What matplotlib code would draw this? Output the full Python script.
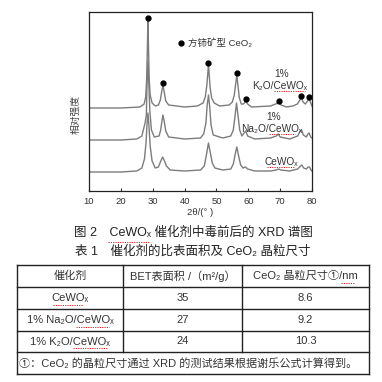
import matplotlib
matplotlib.use('Agg')
import matplotlib.pyplot as plt
from matplotlib.lines import Line2D

plt.rcParams['font.family'] = ['Liberation Sans', 'Noto Sans CJK SC', 'DejaVu Sans']

# ---------------- data ----------------
# K2O/CeWOx (top curve)
tt_k = [10, 20, 26, 27.3, 27.8, 28.1, 28.3, 28.5, 28.7, 28.9, 29.2, 29.8, 30.8, 31.8, 32.4, 32.8,
        33.2, 33.6, 34.1, 35.0, 40, 44, 45.8, 46.5, 47.0, 47.3, 47.5, 47.7, 48.0, 48.5, 49.3, 51,
        54, 55.0, 55.6, 56.0, 56.4, 56.8, 57.2, 57.8, 58.5, 59.2, 59.8, 61, 67, 68.6, 69.5, 70.3,
        72, 74, 75.4, 76.2, 76.7, 77.2, 77.9, 78.6, 79.1, 79.6, 80]
int_k = [83, 83, 84, 87, 94, 112, 140, 171, 140, 112, 96, 88, 85, 86, 91, 99,
         106, 99, 90, 86, 84, 85, 88, 94, 106, 118, 126, 118, 104, 93, 88, 85,
         86, 89, 96, 106, 116, 104, 93, 87, 87, 90, 87, 84, 85, 87, 88, 86,
         84, 85, 87, 91, 93, 89, 87, 90, 92, 88, 85]
# Na2O/CeWOx (middle curve)
tt_na = [10, 20, 25, 26.6, 27.2, 27.6, 28.0, 28.2, 28.5, 28.8, 29.1, 29.6, 30.5, 32, 32.5, 32.9,
         33.2, 33.6, 34.1, 35, 40, 45, 46.0, 46.7, 47.1, 47.5, 47.9, 48.3, 49, 52, 54.5, 55.3,
         55.8, 56.3, 56.8, 57.3, 58, 58.7, 59.2, 59.8, 62, 67, 68.8, 69.4, 70, 73, 75.5, 76.3,
         76.7, 77.3, 78.2, 78.7, 79.1, 79.6, 80]
int_na = [51, 51, 52, 55, 63, 68, 76, 105, 130, 105, 80, 61, 54, 55, 61, 70,
          76, 70, 60, 54, 52, 53, 57, 68, 86, 96, 84, 66, 56, 53, 55, 61,
          74, 88, 75, 61, 55, 58, 60, 55, 52, 53, 55, 57, 54, 52, 55, 60,
          61, 56, 54, 57, 58, 54, 53]
# CeWOx (bottom curve)
tt_ce = [10, 20, 25, 26.6, 27.4, 27.9, 28.2, 28.5, 28.8, 29.2, 29.8, 30.8, 31.8, 32.4, 33.1, 33.7,
         34.3, 35.5, 40, 45, 46.2, 46.9, 47.5, 48.1, 48.7, 49.5, 52, 54.5, 55.3, 55.9, 56.4, 56.9,
         57.6, 58.4, 59.1, 59.8, 62, 67, 68.8, 69.5, 70.2, 73, 75.5, 76.4, 76.8, 77.4, 78.2, 78.8,
         79.2, 79.7, 80]
int_ce = [19, 19, 20, 23, 32, 48, 66, 78, 66, 45, 30, 23, 24, 29, 34, 30,
          25, 21, 20, 21, 25, 37, 48, 38, 28, 23, 21, 22, 27, 37, 44, 36,
          26, 23, 24, 22, 20, 20, 21, 22, 21, 20, 22, 25, 26, 23, 22, 24,
          24, 21, 20]
# cerianite CeO2 peak markers
mark_tt = [28.5, 33.2, 47.5, 56.4, 59.2, 69.5, 76.7, 79.1]
mark_int = [173, 108, 128, 118, 92, 90, 95, 94]

xticks = [10, 20, 30, 40, 50, 60, 70, 80]

# table data
tab_header = ['催化剂', 'BET表面积 /（m²/g）', 'CeO₂ 晶粒尺寸①/nm']
tab_catalyst = ['CeWOₓ', '1% Na₂O/CeWOₓ', '1% K₂O/CeWOₓ']
tab_bet = ['35', '27', '24']
tab_size = ['8.6', '9.2', '10.3']
tab_note = '①：CeO₂ 的晶粒尺寸通过 XRD 的测试结果根据谢乐公式计算得到。'

W = 382.0
def fx(px):
    return px / W
def fy(py):
    return 1 - py / W

fig = plt.figure(figsize=(3.82, 3.82), dpi=100)
fig.patch.set_facecolor('white')

ax = fig.add_axes([fx(89), fy(191), 223 / W, 179 / W])
line_c = '#7c7c7c'
ax.plot(tt_k, int_k, color=line_c, lw=1.0)
ax.plot(tt_na, int_na, color=line_c, lw=1.0)
ax.plot(tt_ce, int_ce, color=line_c, lw=1.0)
ax.plot(mark_tt, mark_int, 'o', color='black', ms=3.5, ls='none')
ax.set_xlim(10, 80)
ax.set_ylim(0, 179)
ax.set_yticks([])
ax.set_xticks(xticks)
ax.tick_params(axis='x', direction='in', length=2, width=0.8, labelsize=6.8,
               pad=4.5, labelcolor='#333333', color='#333333')
for s in ax.spines.values():
    s.set_linewidth(0.9)
    s.set_color('#222222')
ax.set_xlabel('2θ/(° )', fontsize=6.8, color='#333333', labelpad=1.5)

# legend inside the plot
ax.plot([38.9], [148], 'o', color='black', ms=3.5)
ax.text(41.0, 148, '方铈矿型 CeO₂', fontsize=6.8, color='#333333', va='center', ha='left')

# curve labels
lab_fs = 7.3
ax.text(70.3, 117, '1%', fontsize=lab_fs, color='#333333', ha='center', va='center')
ax.text(70.0, 105, 'K₂O/CeWOₓ', fontsize=lab_fs, color='#333333', ha='center', va='center')
ax.text(67.8, 74, '1%', fontsize=lab_fs, color='#333333', ha='center', va='center')
ax.text(67.4, 62, 'Na₂O/CeWOₓ', fontsize=lab_fs, color='#333333', ha='center', va='center')
ax.text(70.3, 29, 'CeWOₓ', fontsize=lab_fs, color='#333333', ha='center', va='center')

fig.text(fx(76), fy(114), '相对强度', rotation=90, fontsize=7, color='#444444',
         ha='center', va='center')

# captions
fig.text(fx(193), fy(233), '图 2　CeWOₓ 催化剂中毒前后的 XRD 谱图', fontsize=9,
         color='#222222', ha='center', va='center')
fig.text(fx(193), fy(252), '表 1　催化剂的比表面积及 CeO₂ 晶粒尺寸', fontsize=9,
         color='#222222', ha='center', va='center')

# table
tc = '#222222'
xs = [17, 123, 242, 369]
ys = [265, 287, 309, 331, 352, 374]
for y in ys:
    fig.add_artist(Line2D([fx(xs[0]), fx(xs[-1])], [fy(y), fy(y)], color=tc, lw=1.0))
for x in xs:
    y_end = ys[-2] if x in (xs[1], xs[2]) else ys[-1]
    fig.add_artist(Line2D([fx(x), fx(x)], [fy(ys[0]), fy(y_end)], color=tc, lw=1.0))
cx = [(xs[i] + xs[i + 1]) / 2 for i in range(3)]
tcol = '#333333'
for j, h in enumerate(tab_header):
    fig.text(fx(cx[j]), fy((ys[0] + ys[1]) / 2), h, fontsize=8, color=tcol, ha='center', va='center')
for i in range(3):
    yc = fy((ys[i + 1] + ys[i + 2]) / 2)
    fig.text(fx(cx[0]), yc, tab_catalyst[i], fontsize=8, color=tcol, ha='center', va='center')
    fig.text(fx(cx[1]), yc, tab_bet[i], fontsize=8, color=tcol, ha='center', va='center')
    fig.text(fx(cx[2]), yc, tab_size[i], fontsize=8, color=tcol, ha='center', va='center')
fig.text(fx(19), fy((ys[4] + ys[5]) / 2), tab_note, fontsize=8, color=tcol, ha='left', va='center')

# red spell-check underlines
red_marks = [(274, 305, 91), (269, 295, 134), (267, 294, 167), (108, 150, 242),
             (53, 83, 305), (76, 109, 327), (73, 108, 348), (341, 355, 283)]
for x0, x1, y in red_marks:
    fig.add_artist(Line2D([fx(x0), fx(x1)], [fy(y), fy(y)], color='#e02020', lw=0.7,
                          ls=(0, (1.2, 1.2))))

fig.savefig('out.png', dpi=100, facecolor='white')
